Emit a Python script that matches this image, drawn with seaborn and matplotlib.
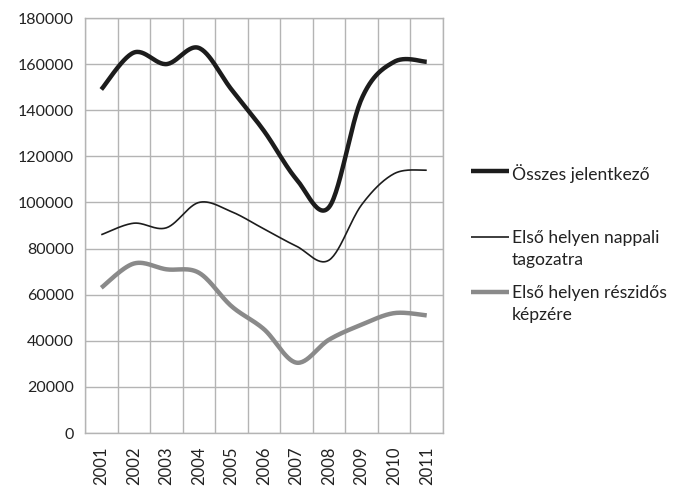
from matplotlib import pyplot as plt
from matplotlib.ticker import MultipleLocator
import numpy as np
import pandas as pd
import seaborn as sns

years = ['2001', '2002', '2003', '2004', '2005', '2006', '2007', '2008', '2009', '2010', '2011']
osszes = [149000, 165000, 160000, 167000, 149000, 131000, 110000, 98000, 145000, 161000, 161000]
nappali = [86000, 91000, 89000, 100000, 96000, 88500, 81000, 75000, 99000, 112500, 114000]
reszido = [63000, 73500, 71000, 69500, 55000, 45000, 30500, 40500, 47000, 52000, 51000]
labels = ['Összes jelentkező', 'Első helyen nappali\ntagozatra', 'Első helyen részidős\nképzére']


def smooth(x, y, n=30):
    # Excel style smoothed line (Catmull-Rom as Bezier)
    p = np.column_stack([x, y]).astype(float)
    p = np.vstack([p[0], p, p[-1]])
    t = np.linspace(0, 1, n)[:, None]
    out = []
    for i in range(1, len(p) - 2):
        p0, p1, p2, p3 = p[i - 1], p[i], p[i + 1], p[i + 2]
        c1 = p1 + (p2 - p0) / 6
        c2 = p2 - (p3 - p1) / 6
        seg = (1 - t) ** 3 * p1 + 3 * (1 - t) ** 2 * t * c1 + 3 * (1 - t) * t ** 2 * c2 + t ** 3 * p2
        out.append(seg if i == 1 else seg[1:])
    out = np.vstack(out)
    return out[:, 0], out[:, 1]


sns.set_style('white')
plt.rcParams['font.family'] = ['Lato', 'DejaVu Sans']

fig = plt.figure(figsize=(6.73, 4.86), dpi=100)
ax = fig.add_axes([85 / 673, 1 - 433 / 486, (443 - 85) / 673, (433 - 18) / 486])

xpos = np.arange(len(years))
styles = [('#1c1c1c', 3.2), ('#1c1c1c', 1.2), ('#8a8a8a', 3.2)]
# first label gets an empty 2nd line so all legend rows have equal height
leg_labels = [labels[0] + '\n'] + labels[1:]
for vals, lab, (col, lw) in zip([osszes, nappali, reszido], leg_labels, styles):
    sx, sy = smooth(xpos, vals)
    df = pd.DataFrame({'x': sx, 'y': sy})
    sns.lineplot(data=df, x='x', y='y', sort=False, estimator=None, color=col,
                 linewidth=lw, label=lab, ax=ax, solid_capstyle='butt')

gc = '#b4b4b4'
ax.set_xlim(-0.5, len(years) - 0.5)
ax.set_ylim(0, 180000)
ax.yaxis.set_major_locator(MultipleLocator(20000))
ax.set_xticks(xpos)
ax.set_xticklabels(years, rotation=90)
ax.set_xticks(np.arange(-0.5, len(years)), minor=True)
ax.grid(axis='y', color=gc, linewidth=1)
ax.grid(axis='x', which='minor', color=gc, linewidth=1)
ax.set_axisbelow(True)
for s in ax.spines.values():
    s.set_color(gc)
    s.set_linewidth(1)
ax.tick_params(axis='x', which='major', length=0, pad=10, labelsize=12, colors='#222222')
ax.tick_params(axis='x', which='minor', length=5, color=gc, width=1)
ax.tick_params(axis='y', length=5, color=gc, width=1, labelsize=11.5, pad=3, labelcolor='#222222')
ax.yaxis.set_major_formatter(lambda v, p: '%d' % v)
ax.set_xlabel('')
ax.set_ylabel('')

leg = ax.legend(loc='upper left', bbox_to_anchor=(471 / 673, 1 - 164 / 486), bbox_transform=fig.transFigure,
                frameon=False, fontsize=12.6, handlelength=2.15, handletextpad=0.2, labelspacing=0.95,
                borderpad=0, borderaxespad=0, labelcolor='#222222', handleheight=1.0)
texts = leg.get_texts()
for t in texts:
    t.set_linespacing(1.5)
texts[0].set_linespacing(2.1)
# put the handle next to the first line of each label
for col in leg._legend_handle_box.get_children():
    for item in col.get_children():
        item.align = 'top'

fig.savefig('out.png', dpi=100)
